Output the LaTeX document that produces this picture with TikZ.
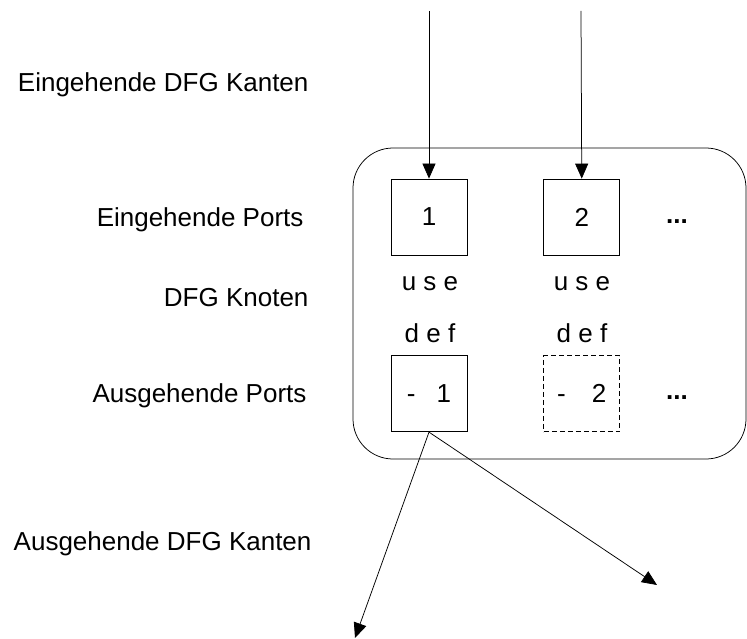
\documentclass[tikz,border=0pt]{standalone}
\usepackage{fontspec}
\setmainfont{Liberation Sans}
\usetikzlibrary{arrows.meta,positioning}

\begin{document}
\begin{tikzpicture}[x=1pt,y=-1pt,>={Triangle[length=15pt,width=13pt]},
  every node/.style={font=\fontsize{26}{30}\selectfont},
  port/.style={draw,line width=0.75pt,minimum width=76pt,minimum height=76pt,inner sep=0pt},
  lbl/.style={anchor=base east},
  edge/.style={->,line width=0.75pt}]
  \useasboundingbox (0,0) rectangle (747,639);

  % DFG Knoten
  \draw[line width=0.75pt,rounded corners=40pt] (353,148) rectangle (746,459);
  \node[port] (in1) at (429,217) {1};
  \node[port,right=76pt of in1] (in2) {2};
  \node[port,below=100pt of in1] (out1) {-\hspace{21pt}1};
  \node[port,dash pattern=on 5pt off 3pt,right=76pt of out1] (out2) {-\hspace{26pt}2};
  \node[font=\fontsize{26}{30}\selectfont\bfseries] (moreIn) at (677,222) {...};
  \node[font=\fontsize{26}{30}\selectfont\bfseries] (moreOut) at (677,398) {...};
  \node[anchor=base] (use1) at (430,290) {u s e};
  \node[anchor=base] (use2) at (582,290) {u s e};
  \node[anchor=base] (def1) at (430,342) {d e f};
  \node[anchor=base] (def2) at (582,342) {d e f};

  % Beschriftung links
  \node[lbl] (lblInEdges) at (312,92) {Eingehende DFG Kanten};
  \node[lbl] (lblInPorts) at (307,226) {Eingehende Ports};
  \node[lbl] (lblNode) at (312,306) {DFG Knoten};
  \node[lbl] (lblOutPorts) at (310,402) {Ausgehende Ports};
  \node[lbl] (lblOutEdges) at (315,550) {Ausgehende DFG Kanten};

  % Kanten
  \coordinate (src1) at (429,11);
  \coordinate (src2) at (581,11);
  \coordinate (dst1) at (355,638);
  \coordinate (dst2) at (657,585);
  \draw[edge] (src1) -- (in1.north);
  \draw[edge] (src2) -- (in2.north);
  \draw[edge] (out1.south) -- (dst1);
  \draw[edge] (out1.south) -- (dst2);
\end{tikzpicture}
\end{document}
